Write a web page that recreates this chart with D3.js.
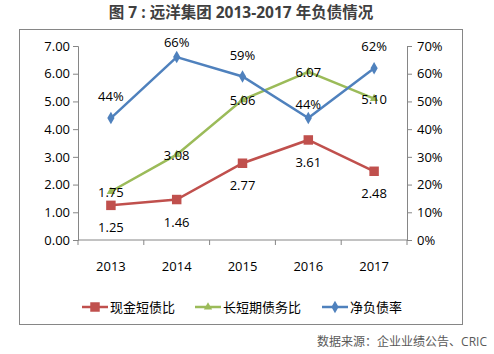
<!DOCTYPE html>
<html>
<head>
<meta charset="utf-8">
<script src="https://cdn.jsdelivr.net/npm/d3@7"></script>
<style>
  html, body { margin: 0; padding: 0; background: #fff; overflow: hidden; }
  svg { display: block; }
  text { font-family: "Open Sans", "Noto Sans CJK SC", sans-serif; }
</style>
</head>
<body>
<div id="chart"></div>
<script>
const years = ['2013', '2014', '2015', '2016', '2017'];
const cashShortDebt = [1.25, 1.46, 2.77, 3.61, 2.48];   // 现金短债比
const longShortDebt = [1.75, 3.08, 5.06, 6.07, 5.10];   // 长短期债务比
const netDebtRate = [0.44, 0.66, 0.59, 0.44, 0.62];     // 净负债率
const leftTicks = [0, 1, 2, 3, 4, 5, 6, 7];
const rightTicks = [0, 0.1, 0.2, 0.3, 0.4, 0.5, 0.6, 0.7];

const width = 494, height = 354;
const margin = {top: 46, right: 87, bottom: 114, left: 78};
const innerWidth = width - margin.left - margin.right;
const innerHeight = height - margin.top - margin.bottom;

const red = '#C0504D', green = '#9BBB59', blue = '#4F81BD', axisColor = '#868686';

const svg = d3.select('#chart').append('svg')
  .attr('width', width)
  .attr('height', height);

svg.append('text')
  .attr('x', 241).attr('y', 18)
  .attr('text-anchor', 'middle')
  .style('font-size', '15.5px').style('font-weight', 'bold')
  .attr('fill', '#404040')
  .text('图 7 : 远洋集团 2013-2017 年负债情况');

svg.append('rect')
  .attr('x', 19.5).attr('y', 29.5)
  .attr('width', 443).attr('height', 295)
  .attr('fill', 'none').attr('stroke', axisColor);

svg.append('text')
  .attr('x', 487).attr('y', 346)
  .attr('text-anchor', 'end')
  .style('font-size', '12px')
  .attr('fill', '#595959')
  .text('数据来源：企业业绩公告、CRIC');

const g = svg.append('g')
  .attr('transform', `translate(${margin.left},${margin.top})`);

const xScale = d3.scaleBand().domain(years).range([0, innerWidth]);
const yLeft = d3.scaleLinear().domain([0, 7]).range([innerHeight, 0]);
const yRight = d3.scaleLinear().domain([0, 0.7]).range([innerHeight, 0]);
const xc = d => xScale(d) + xScale.bandwidth() / 2;

// axes
const yAxisLeft = d3.axisLeft(yLeft).tickValues(leftTicks)
  .tickFormat(d3.format('.2f')).tickSize(5).tickPadding(3);
const yAxisRight = d3.axisRight(yRight).tickValues(rightTicks)
  .tickFormat(d3.format('.0%')).tickSize(5).tickPadding(5);

const styleAxis = sel => {
  sel.select('.domain').attr('stroke', axisColor);
  sel.selectAll('.tick line').attr('stroke', axisColor);
  sel.selectAll('.tick text').attr('fill', '#000').style('font-size', '13px');
};

g.append('g').call(yAxisLeft).call(styleAxis);
g.append('g').attr('transform', `translate(${innerWidth},0)`).call(yAxisRight).call(styleAxis);

const xAxisG = g.append('g').attr('transform', `translate(0,${innerHeight})`);
xAxisG.append('line')
  .attr('x1', 0).attr('x2', innerWidth)
  .attr('stroke', axisColor);
xAxisG.selectAll('.xtick')
  .data(d3.range(years.length + 1))
  .join('line')
  .attr('x1', i => i * xScale.bandwidth()).attr('x2', i => i * xScale.bandwidth())
  .attr('y1', 0).attr('y2', 5)
  .attr('stroke', axisColor);
xAxisG.selectAll('.xlabel')
  .data(years)
  .join('text')
  .attr('x', xc).attr('y', 31)
  .attr('text-anchor', 'middle')
  .style('font-size', '13px')
  .text(d => d);

// lines
const series = [
  {name: '现金短债比', values: cashShortDebt, scale: yLeft, color: red, marker: 'square',
   fmt: d3.format('.2f'), dy: [27, 27, 27, 27, 27]},
  {name: '长短期债务比', values: longShortDebt, scale: yLeft, color: green, marker: 'triangle',
   fmt: d3.format('.2f'), dy: [5, 5, 5, 5, 5]},
  {name: '净负债率', values: netDebtRate, scale: yRight, color: blue, marker: 'diamond',
   fmt: d3.format('.0%'), dy: [-17, -10, -17, -9, -17]}
];

const symbolOf = m => m === 'square' ? d3.symbolSquare : m === 'triangle' ? d3.symbolTriangle : d3.symbolDiamond;
const sizeOf = m => m === 'square' ? 90 : m === 'triangle' ? 30 : 45;

series.forEach(s => {
  const line = d3.line()
    .x((d, i) => xc(years[i]))
    .y(d => s.scale(d));

  g.append('path')
    .datum(s.values)
    .attr('fill', 'none')
    .attr('stroke', s.color)
    .attr('stroke-width', 2.5)
    .attr('d', line);

  g.selectAll(null)
    .data(s.values)
    .join('path')
    .attr('transform', (d, i) => `translate(${xc(years[i])},${s.scale(d)})`)
    .attr('d', d3.symbol().type(symbolOf(s.marker)).size(sizeOf(s.marker)))
    .attr('fill', s.color);
});

series.forEach(s => {
  g.selectAll(null)
    .data(s.values)
    .join('text')
    .attr('x', (d, i) => xc(years[i]))
    .attr('y', (d, i) => s.scale(d) + s.dy[i])
    .attr('text-anchor', 'middle')
    .style('font-size', '13px')
    .text(d => s.fmt(d));
});

// legend
const legendItems = [
  {x: 82, s: series[0]},
  {x: 195, s: series[1]},
  {x: 322, s: series[2]}
];
const legend = svg.append('g').attr('transform', 'translate(0,307)');
legendItems.forEach(item => {
  const lg = legend.append('g').attr('transform', `translate(${item.x},0)`);
  lg.append('line')
    .attr('x1', 0).attr('x2', 26)
    .attr('stroke', item.s.color).attr('stroke-width', 2.5);
  lg.append('path')
    .attr('transform', 'translate(13,0)')
    .attr('d', d3.symbol().type(symbolOf(item.s.marker)).size(sizeOf(item.s.marker)))
    .attr('fill', item.s.color);
  lg.append('text')
    .attr('x', 28).attr('y', 5)
    .style('font-size', '13px')
    .text(item.s.name);
});
</script>
</body>
</html>
